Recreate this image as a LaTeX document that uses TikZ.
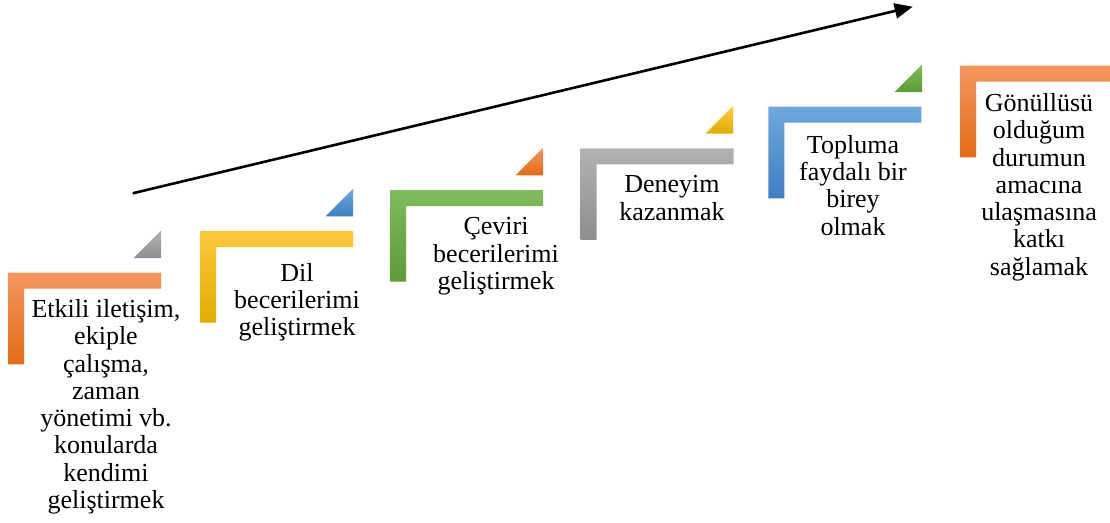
\documentclass[tikz,border=0pt]{standalone}
\usepackage{fontspec}
\setmainfont{Liberation Serif}
\usetikzlibrary{arrows.meta}
\definecolor{orT}{HTML}{F5965E}
\definecolor{orB}{HTML}{E36C14}
\definecolor{yeT}{HTML}{FFC83C}
\definecolor{yeB}{HTML}{E2AC00}
\definecolor{grT}{HTML}{7FBC5C}
\definecolor{grB}{HTML}{5C9B35}
\definecolor{gyT}{HTML}{B2B2B2}
\definecolor{gyB}{HTML}{8E8E8E}
\definecolor{blT}{HTML}{6EA8DE}
\definecolor{blB}{HTML}{3E7EC2}
\tikzset{
  steptext/.style={anchor=north, inner sep=0pt, align=center, text=black,
    font=\fontsize{26}{27.3}\selectfont},
  trend/.style={line width=2.6pt, -{Triangle[length=18pt,width=15pt]}},
}
\newcommand{\stepL}[4]{% x0, top, colour top, colour bottom
  \shade[top color=#3, bottom color=#4]
    (#1,#2) -- ({#1+153},#2) -- ({#1+153},{#2+16}) -- ({#1+16},{#2+16})
    -- ({#1+16},{#2+91.6}) -- (#1,{#2+91.6}) -- cycle;}
\newcommand{\stepTri}[4]{% right x, top of L, colour top, colour bottom
  \shade[top color=#3, bottom color=#4]
    ({#1-27.5},{#2-14.6}) -- (#1,{#2-14.6}) -- (#1,{#2-42.1}) -- cycle;}
\begin{document}
\begin{tikzpicture}[x=1pt,y=-1pt]
\useasboundingbox (0,0) rectangle (1110,522);
% L-shaped steps
\stepL{8}{272.7}{orT}{orB}
\stepL{200}{231}{yeT}{yeB}
\stepL{390}{190}{grT}{grB}
\stepL{580.7}{148.3}{gyT}{gyB}
\stepL{768.3}{106.7}{blT}{blB}
\stepL{960}{65.7}{orT}{orB}
% small triangles
\stepTri{161}{272.7}{gyT}{gyB}
\stepTri{353}{231}{blT}{blB}
\stepTri{543}{190}{orT}{orB}
\stepTri{733}{148.3}{yeT}{yeB}
\stepTri{922}{106.7}{grT}{grB}
% texts
\node[steptext] (t1) at (106,299.2) {Etkili iletişim,\\ekiple\\çalışma,\\zaman\\yönetimi vb.\\konularda\\kendimi\\geliştirmek};
\node[steptext] (t2) at (297,262.9) {Dil\\becerilerimi\\geliştirmek};
\node[steptext] (t3) at (496,217.4) {Çeviri\\becerilerimi\\geliştirmek};
\node[steptext] (t4) at (672,175.5) {Deneyim\\kazanmak};
\node[steptext] (t5) at (853,134.9) {Topluma\\faydalı bir\\birey\\olmak};
\node[steptext] (t6) at (1039,93.2) {Gönüllüsü\\olduğum\\durumun\\amacına\\ulaşmasına\\katkı\\sağlamak};
% trend arrow
\coordinate (a0) at (132.7,193.3);
\coordinate (a1) at (912.7,6.7);
\draw[trend] (a0) -- (a1);
\end{tikzpicture}
\end{document}
